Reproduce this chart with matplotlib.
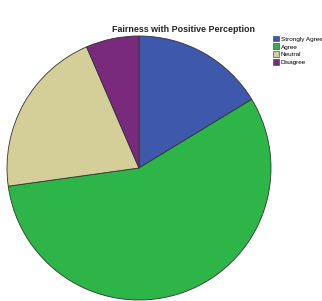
import matplotlib.pyplot as plt
from matplotlib.patches import Patch

labels = ['Strongly Agree', 'Agree', 'Neutral', 'Disagree']
shares = [16.3, 56.5, 20.7, 6.5]
colors = ['#3e58ac', '#2eb548', '#d4cf98', '#7a2a7c']

W, H = 322, 301
fig = plt.figure(figsize=(W / 100, H / 100), dpi=100)
fig.patch.set_facecolor('white')
plt.rcParams['font.family'] = ['Liberation Sans', 'DejaVu Sans']

# pie area in pixels: left 7, top 36, diameter 264
ax = fig.add_axes([7 / W, 1 - 300 / H, 264 / W, 264 / H])
ax.pie(shares, colors=colors, startangle=90, counterclock=False,
       wedgeprops=dict(edgecolor='#333333', linewidth=0.6))
ax.set_aspect('equal')
ax.set_xlim(-1.0, 1.0)
ax.set_ylim(-1.0, 1.0)

fig.text(183 / W, 1 - 29 / H, 'Fairness with Positive Perception',
         ha='center', va='center', fontsize=6.4, fontweight='bold',
         color='#222222')

handles = [Patch(facecolor=c, edgecolor='#333333', linewidth=0.4) for c in colors]
fig.legend(handles, labels, loc='upper left',
           bbox_to_anchor=(273 / W, 1 - 35.5 / H), frameon=False,
           fontsize=4.6, handlelength=1.0, handleheight=1.0,
           handletextpad=0.25, labelspacing=0.3, borderpad=0,
           borderaxespad=0)

fig.savefig('out.png', dpi=100)
